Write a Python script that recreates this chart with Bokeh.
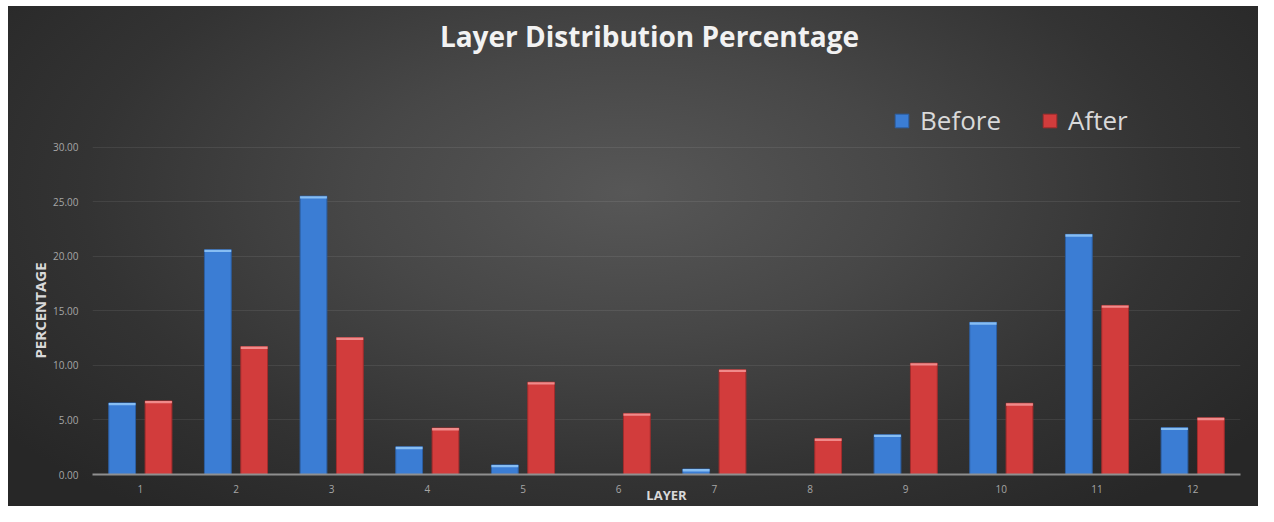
from bokeh.plotting import figure
from bokeh.layouts import column
from bokeh.models import (ColumnDataSource, FactorRange, Legend, LegendItem, Label,
                          NumeralTickFormatter, FixedTicker, Range1d)
from bokeh.transform import dodge
from bokeh.embed import file_html
from bokeh.resources import INLINE

layers = ["1", "2", "3", "4", "5", "6", "7", "8", "9", "10", "11", "12"]
before = [6.56, 20.6, 25.5, 2.54, 0.88, 0.0, 0.5, 0.0, 3.65, 13.94, 22.0, 4.29]
after = [6.74, 11.72, 12.54, 4.26, 8.46, 5.6, 9.6, 3.3, 10.2, 6.53, 15.49, 5.19]
y_ticks = [0, 5, 10, 15, 20, 25, 30]

CAP = 0.22
src = ColumnDataSource(dict(
    layer=layers,
    before=before,
    after=after,
    before_cap=[max(v - CAP, 0) for v in before],
    after_cap=[max(v - CAP, 0) for v in after],
))

W = 1258
HH = 138          # header (title + legend)
HM = 506 - HH     # main chart
FRAME_LEFT = 92
OFF, BW = 0.19, 0.28
BLUE, BLUE_EDGE, BLUE_CAP = "#3b7dd4", "#2c5fa3", "#86bdf3"
RED, RED_EDGE, RED_CAP = "#d23c3c", "#a32c2c", "#f08a8a"


def bars(fig, rng):
    rb = fig.vbar(x=dodge("layer", -OFF, range=rng), top="before", width=BW, source=src,
                  fill_color=BLUE, line_color=BLUE_EDGE, line_width=1)
    ra = fig.vbar(x=dodge("layer", OFF, range=rng), top="after", width=BW, source=src,
                  fill_color=RED, line_color=RED_EDGE, line_width=1)
    return rb, ra


# ---------------- main chart ----------------
p = figure(width=W, height=HM, x_range=FactorRange(factors=layers, range_padding=0),
           y_range=Range1d(0, 30.05), output_backend="svg", toolbar_location=None,
           min_border_left=FRAME_LEFT, min_border_right=18, min_border_top=8, min_border_bottom=26)
p.border_fill_color = None
p.background_fill_color = None
p.outline_line_color = None

bars(p, p.x_range)
p.vbar(x=dodge("layer", -OFF, range=p.x_range), top="before", bottom="before_cap", width=BW,
       source=src, fill_color=BLUE_CAP, line_color=None)
p.vbar(x=dodge("layer", OFF, range=p.x_range), top="after", bottom="after_cap", width=BW,
       source=src, fill_color=RED_CAP, line_color=None)

p.yaxis.ticker = FixedTicker(ticks=y_ticks)
p.yaxis.formatter = NumeralTickFormatter(format="0.00")
p.yaxis.axis_line_color = None
p.yaxis.major_tick_line_color = None
p.yaxis.minor_tick_line_color = None
p.yaxis.major_label_text_color = "#a6a6a6"
p.yaxis.major_label_text_font = "Open Sans"
p.yaxis.major_label_text_font_size = "10px"
p.yaxis.major_label_standoff = 8
p.yaxis.axis_label = "PERCENTAGE"
p.yaxis.axis_label_text_font = "Open Sans"
p.yaxis.axis_label_text_font_style = "bold"
p.yaxis.axis_label_text_font_size = "15px"
p.yaxis.axis_label_text_color = "#d9d9d9"
p.yaxis.axis_label_standoff = 0

p.xaxis.axis_line_color = "#8f8f8f"
p.xaxis.axis_line_width = 2
p.xaxis.major_tick_line_color = None
p.xaxis.minor_tick_line_color = None
p.xaxis.major_label_text_color = "#a6a6a6"
p.xaxis.major_label_text_font = "Open Sans"
p.xaxis.major_label_text_font_size = "10px"
p.xaxis.major_label_standoff = 4
p.xaxis.axis_label = "LAYER"
p.xaxis.axis_label_text_font = "Open Sans"
p.xaxis.axis_label_text_font_style = "bold"
p.xaxis.axis_label_text_font_size = "13px"
p.xaxis.axis_label_text_color = "#d9d9d9"
p.xaxis.axis_label_standoff = -10

p.xgrid.grid_line_color = None
p.ygrid.grid_line_color = "#ffffff"
p.ygrid.grid_line_alpha = 0.08

# ---------------- header: title + legend ----------------
h = figure(width=W, height=HH, x_range=FactorRange(factors=layers, range_padding=0),
           y_range=Range1d(1000, 1001), output_backend="svg", toolbar_location=None,
           x_axis_location=None, y_axis_location=None, min_border=0)
h.border_fill_color = None
h.background_fill_color = None
h.outline_line_color = None
h.grid.grid_line_color = None
hb, ha = bars(h, h.x_range)

h.add_layout(Label(x=649 - FRAME_LEFT, y=HH - 35, x_units="screen", y_units="screen",
                   text="Layer Distribution Percentage", text_font="Open Sans",
                   text_font_style="bold", text_font_size="28px", text_color="#f2f2f2",
                   text_align="center", text_baseline="middle"))

legend = Legend(items=[LegendItem(label="Before", renderers=[hb]),
                       LegendItem(label="After", renderers=[ha])],
                orientation="horizontal", location=(893 - FRAME_LEFT, 0),
                label_text_font="Open Sans", label_text_font_size="26px",
                label_text_color="#d9d9d9", glyph_width=17, glyph_height=17,
                label_standoff=10, spacing=40, padding=0, margin=0,
                background_fill_alpha=0, border_line_color=None)
h.add_layout(legend, "center")

layout = column(h, p, spacing=0, styles={
    "background": "radial-gradient(ellipse 62% 80% at 50% 38%, #575757 0%, #474747 35%, #333333 70%, #272727 100%)",
    "box-shadow": "inset 8px 6px 0 0 #ffffff",
})

open("out.html", "w").write(file_html(layout, INLINE))
